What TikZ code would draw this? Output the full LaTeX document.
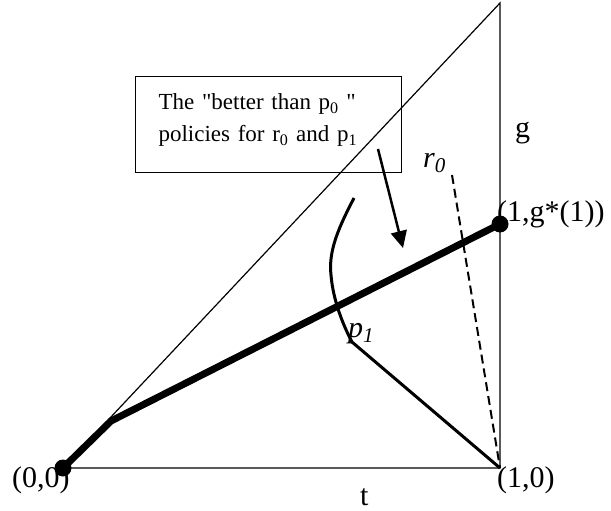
\documentclass[tikz,border=0pt]{standalone}
\usepackage{fontspec}
\setmainfont{Liberation Serif}[Ligatures=TeXOff]
\usepackage{tikz}
\usetikzlibrary{arrows.meta}

\tikzset{
  lbl/.style={inner sep=0pt, anchor=base west, font=\fontsize{30}{36}\selectfont},
  itlbl/.style={lbl, font=\fontsize{30}{36}\selectfont\itshape},
  dot/.style={circle, fill, inner sep=0pt, minimum size=17pt},
}

\begin{document}
\begin{tikzpicture}[x=1pt, y=-1pt, >={Triangle[length=17pt, width=16pt]}]
  \useasboundingbox (0,0) rectangle (611,511);
  % Corners
  \coordinate (O) at (63,468);
  \coordinate (A) at (500,468);
  \coordinate (T) at (500,3);
  \coordinate (K) at (111,421);
  \coordinate (G) at (500,224);
  \coordinate (r0top) at (452,175);
  \coordinate (p1top) at (354,198);
  \coordinate (arrS) at (378,149);
  \coordinate (arrE) at (403,248);
  % Triangle
  \draw[line width=1.2pt] (O) -- (A) -- (T) -- cycle;
  % Note box
  \node[draw, line width=1.2pt, anchor=north west, text width=220pt,
    inner xsep=23pt, inner ysep=0pt, minimum height=96pt, align=left,
    text height=15.5pt, text depth=45.3pt,
    font=\fontsize{23}{32}\selectfont] (note) at (135,76)
    {The "better than p\textsubscript{0} "\\policies for r\textsubscript{0} and p\textsubscript{1}};
  \draw[->, line width=2.5pt] (arrS) -- (arrE);
  % r0 line
  \draw[line width=2pt, dash pattern=on 9pt off 5pt] (r0top) -- (A);
  % p1 curve
  \draw[line width=3pt] (p1top) .. controls (340,225) and (328,250) .. (331,275)
    .. controls (333,300) and (343,325) .. (352,342) -- (A);
  % Path to (1,g*(1))
  \draw[line width=7pt] (O) -- (K) -- (G);
  % Labels
  \node[lbl] (l00) at (12,487) {(0,0)};
  \node[lbl] (l10) at (497,487) {(1,0)};
  \node[lbl] (lg1) at (497,221) {(1,g*(1))};
  \node[lbl] (lg) at (515,138) {g};
  \node[lbl] (lt) at (360,505) {t};
  \node[itlbl] (lr0) at (423,167) {r\textsubscript{0}};
  \node[itlbl] (lp1) at (348,337) {p\textsubscript{1}};
  % Dots
  \node[dot] (origin) at (O) {};
  \node[dot] (gstar) at (G) {};
\end{tikzpicture}
\end{document}
